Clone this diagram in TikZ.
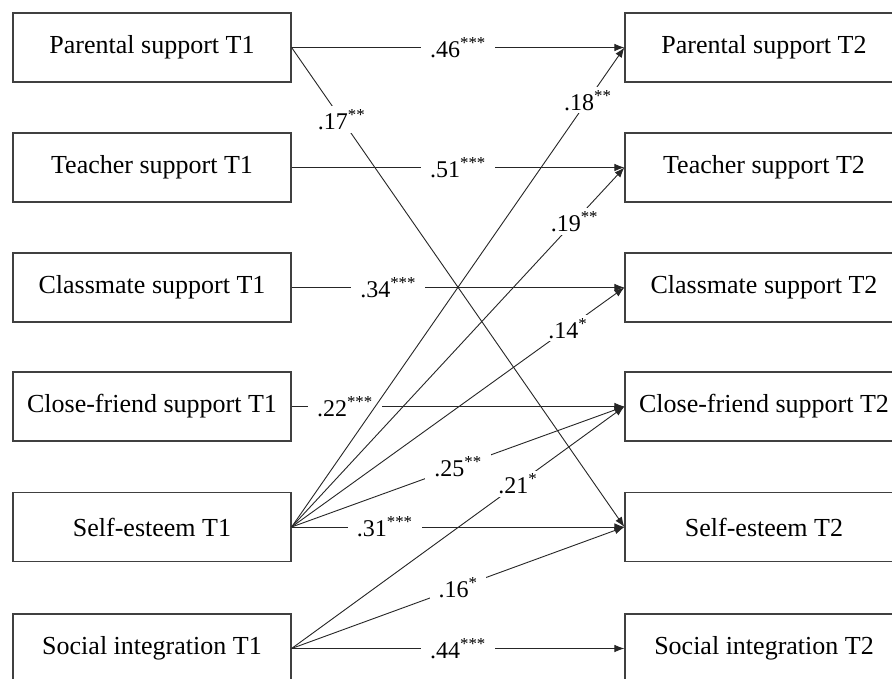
\documentclass[tikz,border=0pt]{standalone}
\usepackage{fontspec}
\setmainfont{Liberation Serif}
\usetikzlibrary{arrows.meta}
\tikzset{
  var/.style={draw=black!75, line width=1.2pt, minimum width=278pt, minimum height=69pt, inner sep=0pt, font=\fontsize{26}{30}\selectfont},
  eff/.style={draw=black!85, line width=0.9pt, -{Latex[length=10pt,width=7.5pt]}},
  coef/.style={fill=white, inner xsep=9pt, inner ysep=3pt, font=\fontsize{24}{28}\selectfont},
}
\newcommand{\sig}[1]{\textsuperscript{#1}}

\begin{document}
\begin{tikzpicture}[x=1pt, y=-1pt]
  \clip (0,0) rectangle (892,679);
  \fill[white] (0,0) rectangle (892,679);
  % time 1
  \node[var] (p1) at (152,47.5) {Parental support T1};
  \node[var] (t1) at (152,167.5) {Teacher support T1};
  \node[var] (c1) at (152,287.5) {Classmate support T1};
  \node[var] (f1) at (152,406.5) {Close-friend support T1};
  \node[var] (s1) at (152,527) {Self-esteem T1};
  \node[var] (i1) at (152,648.5) {Social integration T1};
  % time 2
  \node[var] (p2) at (764,47.5) {Parental support T2};
  \node[var] (t2) at (764,167.5) {Teacher support T2};
  \node[var] (c2) at (764,287.5) {Classmate support T2};
  \node[var] (f2) at (764,406.5) {Close-friend support T2};
  \node[var] (s2) at (764,527) {Self-esteem T2};
  \node[var] (i2) at (764,648.5) {Social integration T2};
  % stability paths
  \draw[eff] (p1.east) -- node[coef] {.46\sig{***}} (p2.west);
  \draw[eff] (t1.east) -- node[coef] {.51\sig{***}} (t2.west);
  \draw[eff] (c1.east) -- node[coef, pos=.29] {.34\sig{***}} (c2.west);
  \draw[eff] (f1.east) -- node[coef, pos=.16] {.22\sig{***}} (f2.west);
  \draw[eff] (s1.east) -- node[coef, pos=.28] {.31\sig{***}} (s2.west);
  \draw[eff] (i1.east) -- node[coef] {.44\sig{***}} (i2.west);
  % cross-lagged paths
  \draw[eff] (p1.east) -- node[coef, pos=.15] {.17\sig{**}} (s2.west);
  \draw[eff] (s1.east) -- node[coef, pos=.89] {.18\sig{**}} (p2.west);
  \draw[eff] (s1.east) -- node[coef, pos=.85] {.19\sig{**}} (t2.west);
  \draw[eff] (s1.east) -- node[coef, pos=.83] {.14\sig{*}} (c2.west);
  \draw[eff] (s1.east) -- node[coef, pos=.5] {.25\sig{**}} (f2.west);
  \draw[eff] (i1.east) -- node[coef, pos=.68] {.21\sig{*}} (f2.west);
  \draw[eff] (i1.east) -- node[coef, pos=.5] {.16\sig{*}} (s2.west);
\end{tikzpicture}
\end{document}
